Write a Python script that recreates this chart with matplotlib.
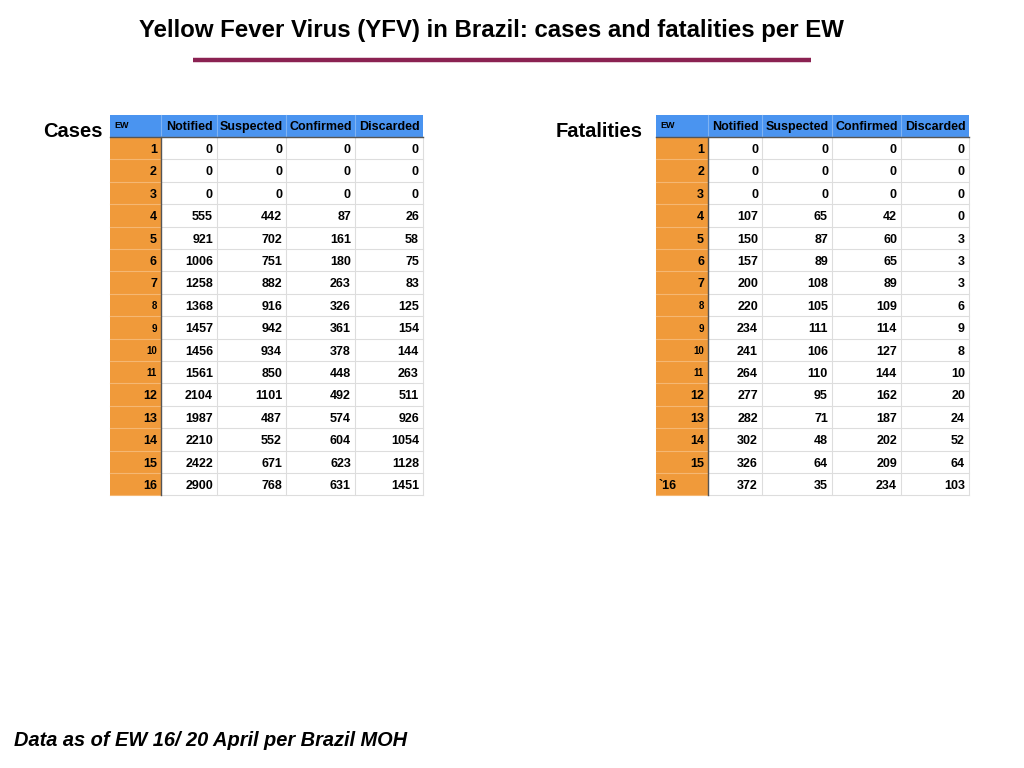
import matplotlib.pyplot as plt
from matplotlib.patches import Rectangle

plt.rcParams['font.family'] = ['Liberation Sans', 'DejaVu Sans']

title = 'Yellow Fever Virus (YFV) in Brazil: cases and fatalities per EW'
footnote = 'Data as of EW 16/ 20 April per Brazil MOH'
columns = ['EW', 'Notified', 'Suspected', 'Confirmed', 'Discarded']

cases_ew = ['1', '2', '3', '4', '5', '6', '7', '8', '9', '10', '11', '12', '13', '14', '15', '16']
cases_notified = [0, 0, 0, 555, 921, 1006, 1258, 1368, 1457, 1456, 1561, 2104, 1987, 2210, 2422, 2900]
cases_suspected = [0, 0, 0, 442, 702, 751, 882, 916, 942, 934, 850, 1101, 487, 552, 671, 768]
cases_confirmed = [0, 0, 0, 87, 161, 180, 263, 326, 361, 378, 448, 492, 574, 604, 623, 631]
cases_discarded = [0, 0, 0, 26, 58, 75, 83, 125, 154, 144, 263, 511, 926, 1054, 1128, 1451]

fat_ew = ['1', '2', '3', '4', '5', '6', '7', '8', '9', '10', '11', '12', '13', '14', '15', '`16']
fat_notified = [0, 0, 0, 107, 150, 157, 200, 220, 234, 241, 264, 277, 282, 302, 326, 372]
fat_suspected = [0, 0, 0, 65, 87, 89, 108, 105, 111, 106, 110, 95, 71, 48, 64, 35]
fat_confirmed = [0, 0, 0, 42, 60, 65, 89, 109, 114, 127, 144, 162, 187, 202, 209, 234]
fat_discarded = [0, 0, 0, 0, 3, 3, 3, 6, 9, 8, 10, 20, 24, 52, 64, 103]

# small-font EW labels in the original slide
small_ew = {'8', '9', '10', '11'}

BLUE = '#4a94f0'
ORANGE = '#f09a3a'


def draw_table(ax, x0, col_w, ew, cols, label, label_x):
    top = 115
    head_h = 22
    row_h = 22.4
    xs = [x0]
    for w in col_w:
        xs.append(xs[-1] + w)
    n = len(ew)
    bottom = top + head_h + n * row_h
    # header
    ax.add_patch(Rectangle((xs[0], top), xs[-1] - xs[0], head_h, color=BLUE, lw=0))
    ax.add_patch(Rectangle((xs[0], top + head_h), col_w[0], n * row_h, color=ORANGE, lw=0))
    for i in range(n + 1):
        y = top + head_h + i * row_h
        ax.plot([xs[1], xs[-1]], [y, y], color='#dddddd', lw=0.8)
        ax.plot([xs[0], xs[1]], [y, y], color='#f5b772', lw=0.8)
    for x in xs[2:]:
        ax.plot([x, x], [top + head_h, bottom], color='#dddddd', lw=0.8)
    for x in xs[1:-1]:
        ax.plot([x, x], [top, top + head_h], color='#7fb3f3', lw=0.8)
    ax.plot([xs[1], xs[1]], [top + head_h, bottom], color='#555555', lw=1.0)
    ax.plot([xs[0], xs[-1]], [top + head_h, top + head_h], color='#555555', lw=1.0)

    # header text
    ax.text(xs[0] + 4, top + 13, columns[0], fontsize=6.5, fontweight='bold',
            va='baseline', ha='left')
    for j, name in enumerate(columns[1:], start=1):
        ax.text((xs[j] + xs[j + 1]) / 2, top + 15, name, fontsize=9,
                fontweight='bold', va='baseline', ha='center')

    for i in range(n):
        yb = top + head_h + (i + 0.5) * row_h + 4.8
        lab = ew[i]
        if lab.startswith('`'):
            ax.text(xs[0] + 3, yb, lab, fontsize=9, fontweight='bold', va='baseline', ha='left')
        else:
            fs = 7 if lab in small_ew else 9
            ax.text(xs[1] - 4, yb - (0.6 if fs < 9 else 0), lab, fontsize=fs,
                    fontweight='bold', va='baseline', ha='right')
        for j, vals in enumerate(cols, start=1):
            ax.text(xs[j + 1] - 4, yb, str(vals[i]), fontsize=9, fontweight='bold',
                    va='baseline', ha='right')

    ax.text(label_x, 131.5, label, fontsize=14.5, fontweight='bold', va='center', ha='right')


fig = plt.figure(figsize=(10.24, 7.68), dpi=100)
ax = fig.add_axes([0, 0, 1, 1])
ax.set_xlim(0, 1024)
ax.set_ylim(768, 0)
ax.axis('off')

ax.text(491, 30, title, fontsize=17.3, fontweight='bold', ha='center', va='center')
ax.plot([193, 811], [60, 60], color='#8b2252', lw=3.2, solid_capstyle='butt')

draw_table(ax, 110, [51, 56, 69, 69, 68], cases_ew,
           [cases_notified, cases_suspected, cases_confirmed, cases_discarded], 'Cases', 103)
draw_table(ax, 656, [52, 54, 70, 69, 68], fat_ew,
           [fat_notified, fat_suspected, fat_confirmed, fat_discarded], 'Fatalities', 643)

ax.text(14, 741, footnote, fontsize=14.4, fontweight='bold', fontstyle='italic',
        ha='left', va='center')

fig.savefig('out.png', dpi=100)
